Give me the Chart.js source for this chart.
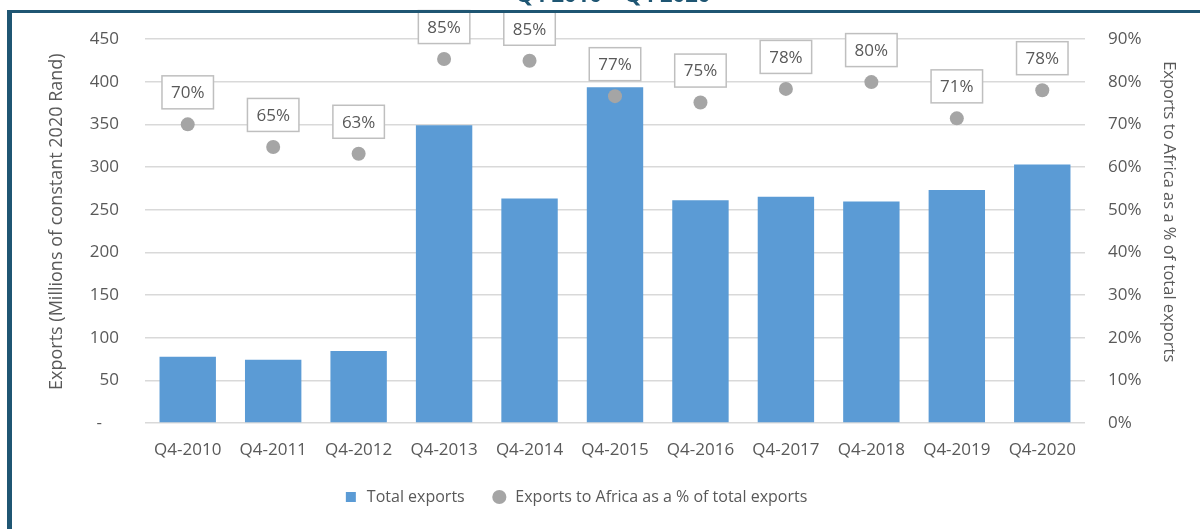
<!DOCTYPE html>
<html>
<head>
<meta charset="utf-8">
<script src="https://cdn.jsdelivr.net/npm/chart.js@4/dist/chart.umd.min.js"></script>
<style>
  html,body{margin:0;padding:0;background:#fff;overflow:hidden;}
  #wrap{position:relative;width:1200px;height:529px;}
  #chart{position:absolute;left:0;top:0;}
  #frame{position:absolute;left:7px;top:10px;right:-10px;bottom:-10px;border-top:3px solid #1f5673;border-left:5px solid #1f5673;pointer-events:none;}
  #title{position:absolute;left:0;width:1226px;top:-18px;text-align:center;font:bold 22px/22px "Open Sans",sans-serif;color:#1f5673;}
</style>
</head>
<body>
<div id="wrap">
  <canvas id="chart" width="1200" height="529"></canvas>
  <div id="title">Q4 2010 – Q4 2020</div>
  <div id="frame"></div>
</div>
<script>
const $ = (id)=>document.getElementById(id);

const quarters = ['Q4-2010','Q4-2011','Q4-2012','Q4-2013','Q4-2014','Q4-2015','Q4-2016','Q4-2017','Q4-2018','Q4-2019','Q4-2020'];
const totalExports = [77.5, 74, 84.5, 349, 263, 393.5, 261, 265, 259.5, 273, 303];
const africaShare = [70.0, 64.7, 63.1, 85.3, 84.9, 76.6, 75.1, 78.3, 79.9, 71.4, 78.0];

const FONT = '"Open Sans", sans-serif';
const GREY_TXT = '#595959';

// boxed value labels above the grey dots
const boxLabels = {
  id:'boxLabels',
  afterDatasetsDraw(chart){
    const meta = chart.getDatasetMeta(1);
    const ctx = chart.ctx;
    ctx.save();
    ctx.font = '17px ' + FONT;
    ctx.textAlign = 'center';
    ctx.textBaseline = 'middle';
    meta.data.forEach((pt, i)=>{
      const txt = Math.round(africaShare[i]) + '%';
      const w = ctx.measureText(txt).width + 18;
      const h = 33;
      const cy = pt.y - 32;
      ctx.fillStyle = '#fff';
      ctx.fillRect(pt.x - w/2, cy - h/2, w, h);
      ctx.strokeStyle = '#bfbfbf';
      ctx.lineWidth = 1.5;
      ctx.strokeRect(pt.x - w/2, cy - h/2, w, h);
      ctx.fillStyle = GREY_TXT;
      ctx.fillText(txt, pt.x, cy + 1);
    });
    ctx.restore();
  }
};

new Chart($('chart').getContext('2d'), {
  data:{
    labels: quarters,
    datasets:[
      { type:'bar', label:'Total exports', data: totalExports, yAxisID:'y',
        backgroundColor:'#5b9bd5', barPercentage:0.66, categoryPercentage:1, order:1 },
      { type:'line', label:'Exports to Africa as a % of total exports', data: africaShare, yAxisID:'y1',
        showLine:false, pointRadius:7, pointHoverRadius:7, pointBackgroundColor:'#a5a5a5',
        pointBorderWidth:0, borderColor:'#a5a5a5', backgroundColor:'#a5a5a5', order:0 }
    ]
  },
  options:{
    responsive:false,
    animation:false,
    layout:{ padding:{ left:46, right:21, top:39, bottom:14 } },
    plugins:{
      tooltip:{ enabled:false },
      legend:{
        position:'bottom',
        labels:{
          color: GREY_TXT, font:{ family:FONT, size:16 },
          usePointStyle:true, boxHeight:10, padding:10,
          generateLabels(chart){
            const items = Chart.defaults.plugins.legend.labels.generateLabels(chart);
            items.sort((a,b)=>a.datasetIndex-b.datasetIndex);
            items.forEach(it=>{
              it.lineWidth = 0;
              if(it.datasetIndex===0){ it.pointStyle='rect'; it.fillStyle='#5b9bd5'; it.text += '    '; }
              else { it.pointStyle='circle'; it.fillStyle='#a5a5a5'; it.text += ' '.repeat(18); }
            });
            return items;
          }
        }
      }
    },
    scales:{
      x:{
        grid:{ display:false },
        border:{ display:false },
        ticks:{ color:GREY_TXT, font:{ family:FONT, size:17 }, padding:9, maxRotation:0 },
        afterFit(s){ s.height = 56; }
      },
      y:{
        position:'left', min:0, max:450,
        ticks:{ stepSize:50, color:GREY_TXT, font:{ family:FONT, size:17 }, padding:26,
          callback:(v)=> v===0 ? '-\u2002\u2002' : String(v) },
        grid:{ color:'#d9d9d9', lineWidth:1.5, drawTicks:false },
        border:{ display:false },
        title:{ display:true, text:'    Exports (Millions of constant 2020 Rand)', color:GREY_TXT,
          font:{ family:FONT, size:18 }, padding:{ top:0, bottom:0 } },
        afterFit(s){ s.width = 99; }
      },
      y1:{
        position:'right', min:0, max:90,
        ticks:{ stepSize:10, color:GREY_TXT, font:{ family:FONT, size:17 }, padding:23,
          callback:(v)=> v + '%' },
        grid:{ display:false, drawTicks:false },
        border:{ display:false },
        title:{ display:true, text:'Exports to Africa as a % of total exports' + ' '.repeat(9), color:GREY_TXT,
          font:{ family:FONT, size:16.5 }, padding:{ top:0, bottom:0 } },
        afterFit(s){ s.width = 94; }
      }
    }
  },
  plugins:[boxLabels]
});
</script>
</body>
</html>
